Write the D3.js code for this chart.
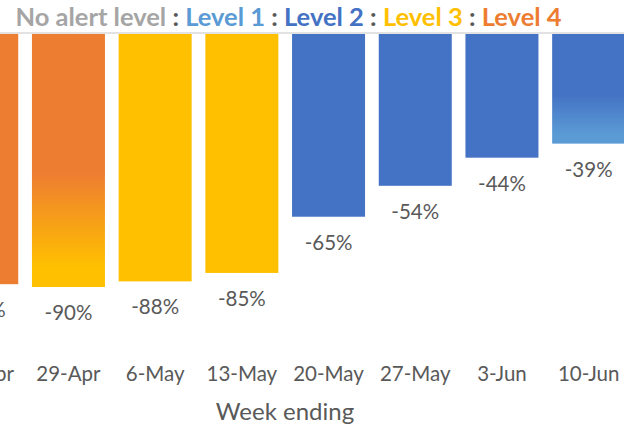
<!DOCTYPE html>
<html>
<head>
<meta charset="utf-8">
<script src="https://cdn.jsdelivr.net/npm/d3@7"></script>
<style>
  body { margin: 0; background: #fff; }
  text { font-family: Lato, "Open Sans", sans-serif; }
</style>
</head>
<body>
<div id="chart"></div>
<script>
var width = 624,
    height = 428;

// data
var weeks = ["22-Apr", "29-Apr", "6-May", "13-May", "20-May", "27-May", "3-Jun", "10-Jun"];
var change = [-89, -90, -88, -85, -65, -54, -44, -39];
var levelStart = [4, 4, 3, 3, 2, 2, 2, 2];
var levelEnd = [4, 3, 3, 3, 2, 2, 2, 1];

var titleParts = ["No alert level", "Level 1", "Level 2", "Level 3", "Level 4"];
var levelColors = ["#A5A5A5", "#5B9BD5", "#4472C4", "#FFC000", "#ED7D31"];

var textColor = "#595959";

var svg = d3.select("#chart").append("svg")
    .attr("width", width)
    .attr("height", height);

var defs = svg.append("defs");

var x = d3.scaleBand()
    .domain(weeks)
    .range([-61.6, 632])
    .paddingInner(0.158)
    .paddingOuter(0.079);

var y = d3.scaleLinear()
    .domain([0, -90])
    .range([34, 287]);

// gradients for weeks where the level changed
weeks.forEach(function(w, i) {
  if (levelStart[i] == levelEnd[i]) return;
  var g = defs.append("linearGradient")
      .attr("id", "grad" + i)
      .attr("x1", 0).attr("y1", 0)
      .attr("x2", 0).attr("y2", 1);
  g.append("stop").attr("offset", "55%").attr("stop-color", levelColors[levelStart[i]]);
  g.append("stop").attr("offset", "92%").attr("stop-color", levelColors[levelEnd[i]]);
});

// zero line
svg.append("line")
    .attr("x1", 0).attr("x2", width)
    .attr("y1", y(0) - 1).attr("y2", y(0) - 1)
    .attr("stroke", "#D9D9D9")
    .attr("stroke-width", 1.5);

svg.selectAll(".bar")
    .data(weeks)
  .enter().append("rect")
    .attr("class", "bar")
    .attr("x", function(d) { return x(d); })
    .attr("width", x.bandwidth())
    .attr("y", y(0))
    .attr("height", function(d, i) { return y(change[i]) - y(0); })
    .attr("fill", function(d, i) {
      return levelStart[i] == levelEnd[i] ? levelColors[levelStart[i]] : "url(#grad" + i + ")";
    });

// value labels
svg.selectAll(".val")
    .data(weeks)
  .enter().append("text")
    .attr("class", "val")
    .attr("x", function(d) { return x(d) + x.bandwidth() / 2; })
    .attr("y", function(d, i) { return y(change[i]) + 33; })
    .attr("text-anchor", "middle")
    .attr("font-size", 20.5)
    .attr("fill", textColor)
    .text(function(d, i) { return change[i] + "%"; });

// category axis labels
svg.selectAll(".cat")
    .data(weeks)
  .enter().append("text")
    .attr("class", "cat")
    .attr("x", function(d) { return x(d) + x.bandwidth() / 2; })
    .attr("y", 381)
    .attr("text-anchor", "middle")
    .attr("font-size", 20.5)
    .attr("fill", textColor)
    .text(function(d) { return d; });

svg.append("text")
    .attr("x", 285)
    .attr("y", 420)
    .attr("text-anchor", "middle")
    .attr("font-size", 24)
    .attr("fill", textColor)
    .text("Week ending");

// title
var title = svg.append("text")
    .attr("x", 288.5)
    .attr("y", 26)
    .attr("text-anchor", "middle")
    .attr("font-size", 25.5)
    .attr("font-weight", "bold");

titleParts.forEach(function(t, i) {
  if (i > 0) title.append("tspan").attr("fill", textColor).text(" : ");
  title.append("tspan").attr("fill", levelColors[i]).text(t);
});
</script>
</body>
</html>
